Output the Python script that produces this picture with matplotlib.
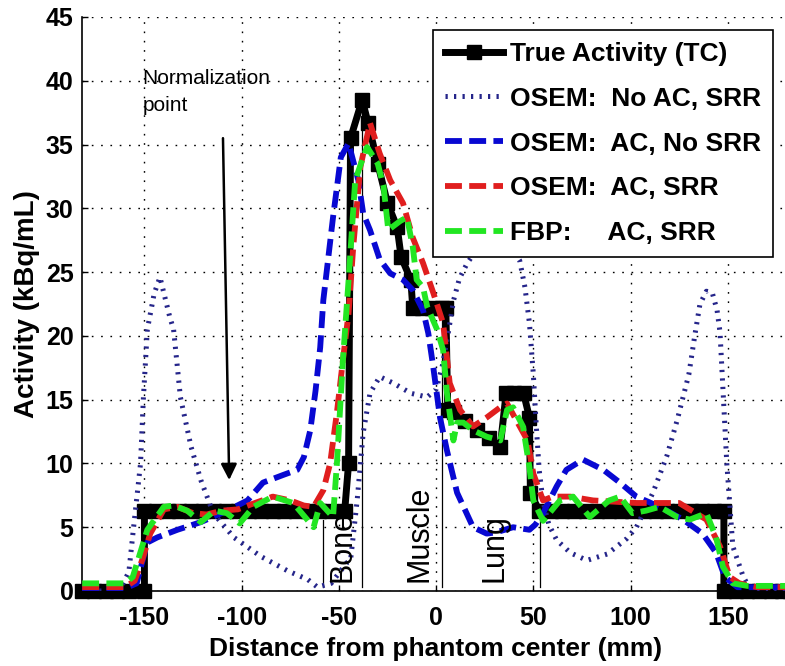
import matplotlib
matplotlib.use("Agg")
import matplotlib.pyplot as plt

# ---- Profile data (distance from phantom center in mm, activity in kBq/mL) ----
tc_x = [-182, -176, -170, -164, -158, -150, -150, -144, -138, -132, -126, -120,
        -114, -108, -102, -96, -90, -84, -78, -72, -66, -60, -54, -47, -45, -44,
        -38, -35, -30, -25, -20, -18, -13, -12, -7, -2, 3, 5, 6, 9, 15, 21, 27,
        33, 36, 40, 45, 48, 48.5, 53, 59, 65, 71, 77, 83, 89, 95, 101, 107, 113,
        119, 125, 131, 137, 143, 148, 148, 154, 160, 166, 172, 178, 182]
tc_y = [0, 0, 0, 0, 0, 0, 6.3, 6.3, 6.3, 6.3, 6.3, 6.3,
        6.3, 6.3, 6.3, 6.3, 6.3, 6.3, 6.3, 6.3, 6.3, 6.3, 6.3, 6.3, 10, 35.5,
        38.5, 36.7, 33.5, 30.4, 28.5, 26.2, 24.4, 22.2, 22.2, 22.2, 22.2, 22.2, 14.2, 14, 13.3, 12.6, 12,
        11.3, 15.5, 15.5, 15.5, 13.6, 7.7, 6.3, 6.3, 6.3, 6.3, 6.3, 6.3, 6.3, 6.3, 6.3, 6.3, 6.3,
        6.3, 6.3, 6.3, 6.3, 6.3, 6.3, 0, 0, 0, 0, 0, 0, 0]

noac_x = [-182, -170, -162, -158, -155.7, -152, -150.5, -148.5, -145, -142, -137,
          -135, -131.5, -126, -121, -114.6, -104, -90, -76.6, -66, -61, -54, -46,
          -44, -40.6, -37.5, -34, -29, -22, -13, -4.6, 0, 3, 6, 9, 12, 16, 22, 28,
          34, 40, 43, 45.7, 48, 50, 51.5, 53, 55, 58, 62, 69, 77.6, 88, 98, 103,
          111.5, 118.7, 124, 127, 130, 133, 135.7, 139, 142, 144.5, 146, 149.5,
          152.6, 158, 161, 170, 182]
noac_y = [0, 0, 0.3, 1.5, 4.8, 10, 15.2, 20.5, 23.3, 24.6, 21.5,
          20.5, 15.2, 11.3, 8.7, 6.1, 4.2, 2.7, 1.6, 0.9, 0.3, 0.6, 2.2,
          2.4, 7.1, 12.4, 15.5, 16.8, 16.3, 15.5, 15.2, 15.8, 17.5, 20, 22.8, 24.5, 25.7, 27, 27.6,
          27.4, 26.6, 25.9, 23.8, 21, 17, 13, 9.5, 7, 5.2, 4, 3, 2.4, 2.9, 4.1, 5,
          7.7, 10.6, 13.4, 15.2, 17, 20, 22.5, 23.5, 23.4, 22, 20.3, 10,
          3.5, 1.1, 0.3, 0, 0]

ac_nosrr_x = [-182, -160, -154, -148.5, -143.4, -133, -121, -107.4, -97, -89, -78.6,
              -71.4, -68, -64.7, -62, -59.6, -58, -53, -49, -45, -40, -37.5, -34,
              -29, -23.6, -17, -12, -6.7, -4, -1.5, 2, 5.6, 10.8, 19, 26, 31, 39.6,
              48, 51, 55, 62, 67, 75.5, 86, 94.5, 103, 115, 127, 137, 144, 148.5,
              155, 165, 182]
ac_nosrr_y = [0.2, 0.2, 0.6, 3.8, 4.2, 4.8, 5.4, 6.3, 7.1, 8.5, 9.1,
              9.5, 10.5, 12.6, 15.7, 19.1, 22.8, 29.3, 34, 35.1, 32.2, 29.6, 28.3,
              26, 24.9, 24.4, 23.6, 22, 20.2, 17.6, 13.6, 11, 7.7, 5, 4.5, 4.6, 5,
              4.8, 5.2, 6.1, 8.2, 9.5, 10.3, 9.5, 8.5, 7.4, 6.6, 5.6, 4.5, 3, 1.1,
              0.3, 0.3, 0.3]

ac_srr_x = [-182, -160, -155, -151, -147, -140, -133, -125, -118, -110, -102, -95,
            -84, -75, -68, -63, -58, -54.5, -51, -48, -45, -42.6, -39, -34, -29,
            -23.6, -17, -12, -6.7, -1.5, 3.6, 7, 12.3, 19, 26, 33, 36.5, 47, 50,
            55, 60, 69, 80.7, 103, 125, 139, 146, 151, 156, 165, 182]
ac_srr_y = [0.3, 0.3, 0.8, 2.5, 4.5, 6.4, 6.6, 6.1, 6.0, 6.3, 6.4, 6.8,
            7.4, 7.1, 6.7, 6.6, 7.9, 10, 14, 18, 21.8, 27, 33.2, 36.7, 34.3,
            32.2, 30.4, 27.7, 25.7, 23.4, 21, 16.3, 14.2, 12.9, 13.6, 14.4, 14.7, 11.8, 9.2,
            7.1, 7.4, 7.4, 7.1, 6.9, 6.9, 5.6, 3.5, 1.1, 0.6, 0.3, 0.3]

fbp_x = [-182, -160, -156, -148.5, -140, -135, -128, -121, -114, -107.6, -101, -94,
         -84, -73.5, -63, -59.6, -53, -51, -48, -45, -41.6, -37.5, -35.5, -30, -27,
         -24.6, -18.5, -15, -12, -10, -6.7, -4.6, 0.5, 3.6, 5.6, 8.9, 10.8, 14, 19,
         26, 33, 36.5, 39.6, 44.7, 48, 50, 55, 63.7, 70.4, 79, 89, 94.6, 101, 108,
         115, 124, 130.5, 139, 144, 147.5, 152.6, 160, 182]
fbp_y = [0.6, 0.6, 1.1, 4.8, 6.6, 6.7, 6.3, 5.4, 6.3, 6.1, 5.3, 6.6,
         7.4, 6.9, 5, 6.9, 5.8, 10, 17.9, 24.4, 32.2, 34, 34.8, 33.5, 31.7,
         28.3, 29, 29.3, 27, 24.4, 23.8, 22.3, 20.5, 18.9, 15.5, 11.8, 13.2, 13.2, 12.6,
         12.1, 11.8, 14.2, 14.4, 12.9, 9.7, 7.1, 5.5, 7.1, 7.4, 5.8, 7.1, 7.4, 6.1, 6.3,
         6.6, 5.8, 5.6, 6.1, 4.2, 1.9, 0.6, 0.4, 0.4]

# Tissue boundary markers: (x position, top of the marker line)
boundary_x = [-58, -38, 3, 53.5]
boundary_top = [5.6, 38.3, 22.2, 5.7]
region_names = ["Bone", "Muscle", "Lung"]
region_x = [-56, -16.5, 22.5]

legend_labels = ["True Activity (TC)", "OSEM:  No AC, SRR", "OSEM:  AC, No SRR",
                 "OSEM:  AC, SRR", "FBP:     AC, SRR"]

x_ticks = [-150, -100, -50, 0, 50, 100, 150]
y_ticks = [0, 5, 10, 15, 20, 25, 30, 35, 40, 45]

# ---- Styling ----
BOLD = {"family": "Liberation Sans", "weight": "bold"}
W, H = 785, 666
fig = plt.figure(figsize=(W / 100, H / 100), dpi=100)
ax = fig.add_axes([82 / W, 75 / H, 708 / W, 574 / H])

ax.set_xlim(-182.1, 182)
ax.set_ylim(0, 45)

navy = "#25258a"
blue = "#0808d2"
red = "#e01e1e"
green = "#22e622"

ax.plot(tc_x, tc_y, color="black", lw=5, marker="s", ms=10, mfc="black",
        mec="black", clip_on=False, zorder=3, label=legend_labels[0])
ax.plot(noac_x, noac_y, color=navy, lw=3.6, dashes=(0.45, 1.25),
        zorder=4, label=legend_labels[1])
ax.plot(ac_nosrr_x, ac_nosrr_y, color=blue, lw=4.2, dashes=(2.9, 1.25),
        zorder=5, label=legend_labels[2])
ax.plot(ac_srr_x, ac_srr_y, color=red, lw=4.2, dashes=(2.9, 1.25),
        zorder=6, label=legend_labels[3])
ax.plot(fbp_x, fbp_y, color=green, lw=4.2, dashes=(2.9, 1.25),
        zorder=7, label=legend_labels[4])

# Thin vertical lines at tissue boundaries
for bx, bt in zip(boundary_x, boundary_top):
    ax.plot([bx, bx], [0.3, bt], color="black", lw=0.9, zorder=2.5)

for name, rx in zip(region_names, region_x):
    ax.text(rx, 0.7, name, rotation=90, ha="left", va="bottom",
            fontsize=22, family="Liberation Sans", zorder=8)

ax.text(-151, 40.9, "Normalization\npoint", ha="left", va="top",
        fontsize=15, family="Liberation Sans", linespacing=1.5, zorder=8)
ax.annotate("", xy=(-106.4, 8.7), xytext=(-109.6, 35.5),
            arrowprops=dict(arrowstyle="-|>", lw=1.8, color="black",
                            mutation_scale=24, shrinkA=0, shrinkB=0),
            zorder=8)

# Axes, ticks, grid
ax.set_xticks(x_ticks)
ax.set_yticks(y_ticks)
ax.set_xticklabels([str(v) for v in x_ticks], fontdict=BOLD, fontsize=18)
ax.set_yticklabels([str(v) for v in y_ticks], fontdict=BOLD, fontsize=18)
ax.tick_params(direction="in", length=4, width=1, pad=6)
ax.tick_params(axis="x", pad=11)
ax.grid(True, color="black", lw=1.0, linestyle=(0, (1.2, 5.5)))
ax.set_axisbelow(True)
for side in ("top", "right"):
    ax.spines[side].set_visible(False)
for side in ("left", "bottom"):
    ax.spines[side].set_linewidth(1.2)

ax.set_xlabel("Distance from phantom center (mm)", fontdict=BOLD, fontsize=19,
              labelpad=5)
ax.set_ylabel("Activity (kBq/mL)", fontdict=BOLD, fontsize=20, labelpad=4)

leg = ax.legend(loc="upper right", bbox_to_anchor=(773 / W, 1 - 30 / H),
                bbox_transform=fig.transFigure, borderaxespad=0,
                prop={"family": "Liberation Sans", "weight": "bold", "size": 19},
                handlelength=2.2, handletextpad=0.27, labelspacing=0.79,
                borderpad=0.45, fancybox=False, framealpha=1, edgecolor="black")
leg.get_frame().set_linewidth(1.2)
leg.set_zorder(10)

fig.savefig("out.png", dpi=100, facecolor="white")
